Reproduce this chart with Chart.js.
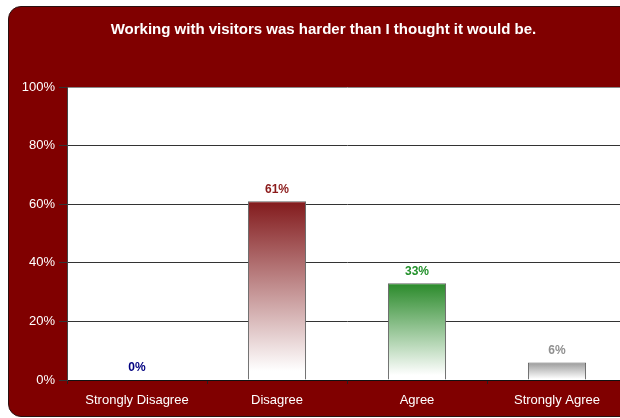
<!DOCTYPE html>
<html>
<head>
<meta charset="utf-8">
<script src="https://cdn.jsdelivr.net/npm/chart.js@4.4.1/dist/chart.umd.min.js"></script>
<style>
  html, body { margin: 0; padding: 0; background: #fff; overflow: hidden; width: 620px; height: 418px; }
  #panel {
    position: absolute; left: 8px; top: 6px; width: 700px; height: 411px;
    box-sizing: border-box; background: #800000; border: 1px solid #2a1010;
    border-radius: 13px;
  }
  #wrap { position: absolute; left: 0; top: 0; width: 650px; height: 418px; }
</style>
</head>
<body>
<div id="panel"></div>
<div id="wrap"><canvas id="chart-bar" width="650" height="418"></canvas></div>
<script>
const categories = ["Strongly Disagree", "Disagree", "Agree", "Strongly Agree"];
const percentValues = [0, 61, 33, 6];
const yTicks = [0, 20, 40, 60, 80, 100];
const chartTitle = "Working with visitors was harder than I thought it would be.";

// top colour of each bar's fade, and the matching value label colour
const barColors = ["#000080", "#821a1c", "#2a8a2a", "#9a9a9a"];
const labelColors = ["#000080", "#8b1a1a", "#22902a", "#909090"];

const FONT = "Arial, 'Liberation Sans', sans-serif";

// white plot background over the maroon panel
const plotBackground = {
  id: "plotBackground",
  beforeDraw(chart) {
    const a = chart.chartArea;
    const ctx = chart.ctx;
    ctx.save();
    ctx.fillStyle = "#ffffff";
    ctx.fillRect(a.left, a.top, a.right - a.left, a.bottom - a.top);
    ctx.restore();
  },
};

// percentage text above each bar
const valueLabels = {
  id: "valueLabels",
  afterDatasetsDraw(chart) {
    const ctx = chart.ctx;
    const meta = chart.getDatasetMeta(0);
    ctx.save();
    ctx.font = "bold 12px " + FONT;
    ctx.textAlign = "center";
    ctx.textBaseline = "bottom";
    meta.data.forEach((bar, i) => {
      ctx.fillStyle = labelColors[i];
      ctx.fillText(percentValues[i] + "%", bar.x, bar.y - 6);
    });
    ctx.restore();
  },
};

function barGradient(context) {
  const chart = context.chart;
  const y = chart.scales.y;
  if (!y || !chart.chartArea) return barColors[context.dataIndex];
  const top = y.getPixelForValue(context.raw);
  const bottom = y.getPixelForValue(0);
  if (!(bottom - top >= 1)) return barColors[context.dataIndex];
  const g = chart.ctx.createLinearGradient(0, top, 0, bottom);
  g.addColorStop(0, barColors[context.dataIndex]);
  g.addColorStop(0.95, "#ffffff");
  g.addColorStop(1, "#ffffff");
  return g;
}

const ctx = document.getElementById("chart-bar");
new Chart(ctx, {
  type: "bar",
  data: {
    labels: categories,
    datasets: [
      {
        data: percentValues,
        backgroundColor: barGradient,
        borderColor: "#666666",
        borderWidth: 1,
        borderSkipped: "bottom",
        categoryPercentage: 1,
        barPercentage: 0.415,
      },
    ],
  },
  options: {
    responsive: false,
    animation: false,
    devicePixelRatio: 1,
    layout: { padding: { left: 20, right: 23, top: 0, bottom: 0 } },
    plugins: {
      legend: { display: false },
      tooltip: { enabled: false },
      title: {
        display: true,
        text: chartTitle,
        color: "#ffffff",
        font: { family: FONT, size: 15, weight: "bold", lineHeight: 1.2 },
        padding: { top: 21, bottom: 48 },
      },
    },
    scales: {
      x: {
        afterFit(scale) { scale.height = 38; },
        border: { color: "#111111", width: 1 },
        grid: { drawOnChartArea: false, drawTicks: true, tickLength: 4, color: "#222222", offset: true },
        ticks: {
          color: "#ffffff",
          padding: 9,
          maxRotation: 0,
          font: { family: FONT, size: 13 },
        },
      },
      y: {
        min: 0,
        max: 100,
        afterFit(scale) { scale.width = 47; },
        afterBuildTicks(scale) { scale.ticks = yTicks.map((v) => ({ value: v })); },
        border: { color: "#444444", width: 1 },
        grid: {
          color: (c) => (c.tick && c.tick.value === 100 ? "#8a8a8a" : "#333333"),
          tickColor: "#333333",
          tickLength: 8,
        },
        ticks: {
          color: "#ffffff",
          padding: 4,
          font: { family: FONT, size: 13 },
          callback: (v) => v + "%",
        },
      },
    },
  },
  plugins: [plotBackground, valueLabels],
});
</script>
</body>
</html>
